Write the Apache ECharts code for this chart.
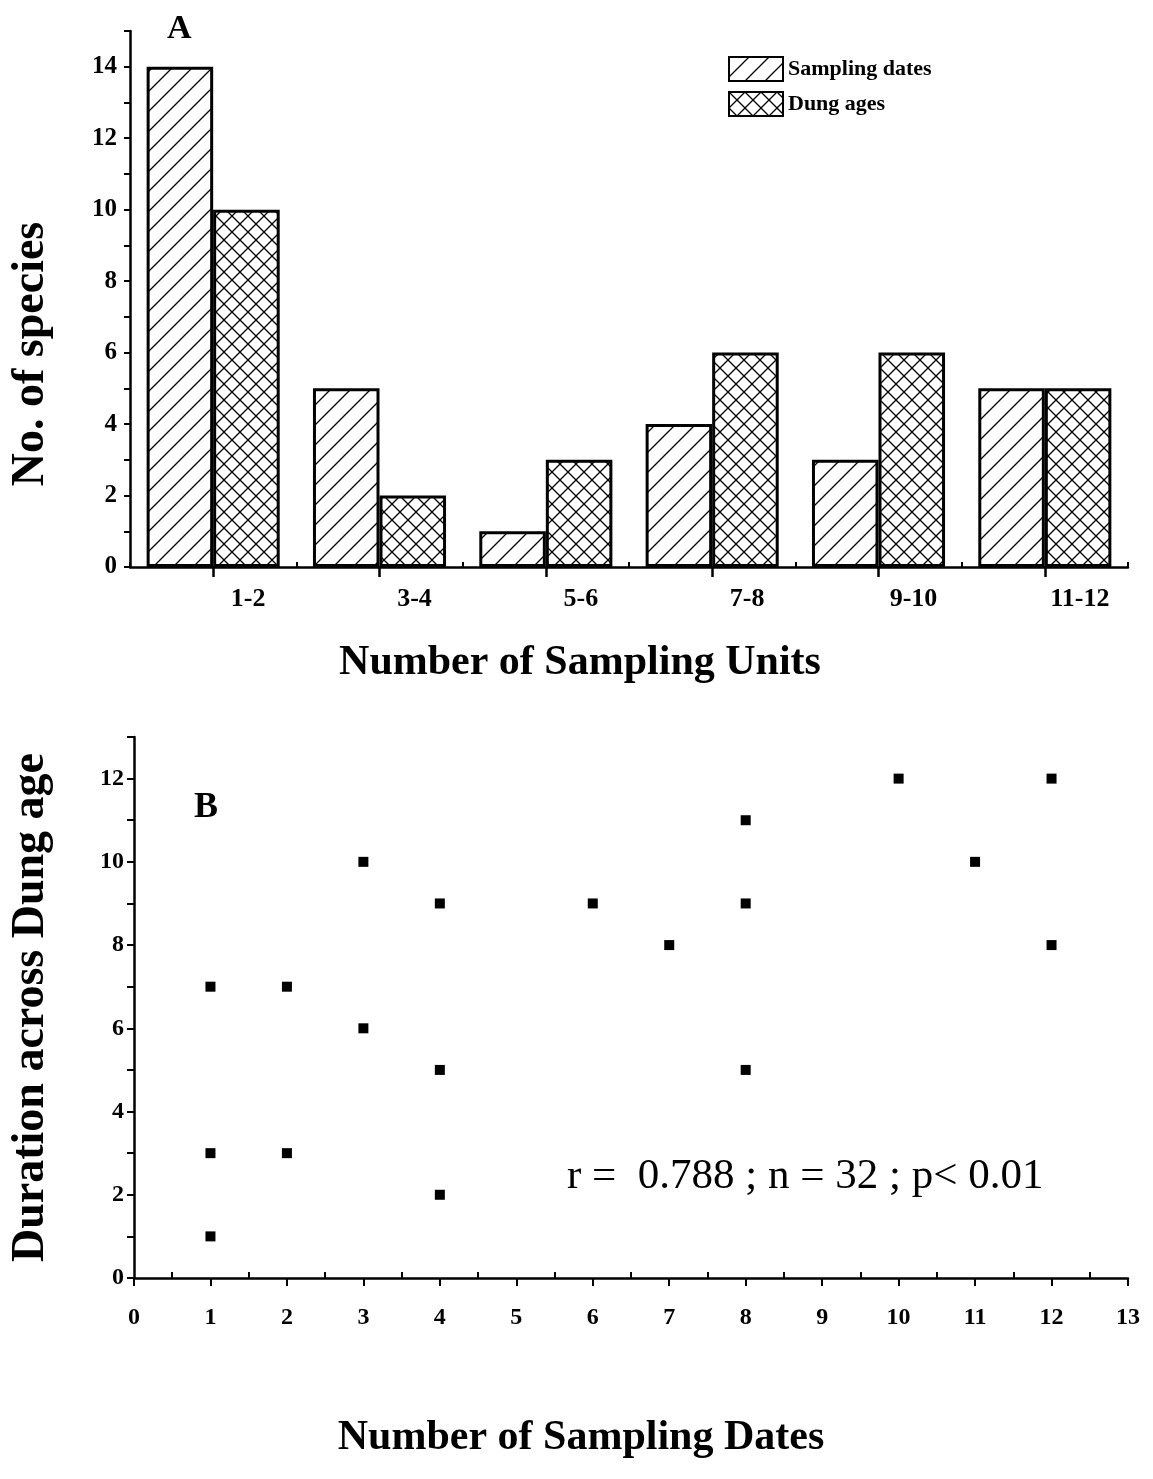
<!DOCTYPE html>
<html>
<head>
<meta charset="utf-8">
<script src="https://cdn.jsdelivr.net/npm/echarts@6/dist/echarts.min.js"></script>
<style>
  html, body { margin: 0; padding: 0; background: #fff; }
  #chart { width: 1153px; height: 1479px; }
</style>
</head>
<body>
<div id="chart"></div>
<script>
// Panel A: number of species found in N sampling units
const unitClasses = ['1-2', '3-4', '5-6', '7-8', '9-10', '11-12'];
const samplingDates = [14, 5, 1, 4, 3, 5];
const dungAges = [10, 2, 3, 6, 6, 5];

// Panel B: sampling dates vs. duration across dung age, one [x, y] per species
const datesVsDuration = [
  [1, 7], [1, 3], [1, 1],
  [2, 7], [2, 3],
  [3, 10], [3, 6],
  [4, 9], [4, 5], [4, 2],
  [6, 9],
  [7, 8],
  [8, 11], [8, 9], [8, 5],
  [10, 12],
  [11, 10],
  [12, 12], [12, 8]
];
const statsText = 'r =  0.788 ; n = 32 ; p< 0.01';

const SERIF = '"Liberation Serif", "Times New Roman", serif';
const INK = '#000';

// Fill patterns: single diagonal hatch and cross hatch
function hatchTile(size, cross) {
  const c = document.createElement('canvas');
  c.width = size; c.height = size;
  const g = c.getContext('2d');
  g.fillStyle = '#fff';
  g.fillRect(0, 0, size, size);
  g.strokeStyle = INK;
  g.lineWidth = 1.3;
  g.beginPath();
  g.moveTo(-2, size + 2); g.lineTo(size + 2, -2);
  g.moveTo(-2, 2); g.lineTo(2, -2);
  g.moveTo(size - 2, size + 2); g.lineTo(size + 2, size - 2);
  if (cross) {
    g.moveTo(-2, -2); g.lineTo(size + 2, size + 2);
    g.moveTo(size - 2, -2); g.lineTo(size + 2, 2);
    g.moveTo(-2, size - 2); g.lineTo(2, size + 2);
  }
  g.stroke();
  return c;
}
const hatchFill = { image: hatchTile(20, false), repeat: 'repeat' };
const crossFill = { image: hatchTile(16, true), repeat: 'repeat' };

const axisLine = { show: true, lineStyle: { color: INK, width: 2.5 } };
const tickLabel = { color: INK, fontFamily: SERIF, fontWeight: 'bold', fontSize: 25 };
const titleStyle = { color: INK, fontFamily: SERIF, fontWeight: 'bold', fontSize: 42 };
const yTitleStyle = Object.assign({}, titleStyle, { fontSize: 46 });
const evenOnly = v => (v % 2 === 0 ? String(v) : '');

const chart = echarts.init(document.getElementById('chart'), null, { renderer: 'canvas' });

chart.setOption({
  animation: false,
  backgroundColor: '#fff',
  grid: [
    { left: 128, right: 25, top: 31, height: 536 },
    { left: 132, right: 25, top: 737, height: 541 }
  ],
  legend: {
    data: ['Sampling dates', 'Dung ages'],
    orient: 'vertical',
    left: 723, top: 51,
    itemWidth: 54, itemHeight: 24, itemGap: 9,
    icon: 'rect',
    itemStyle: { borderColor: INK, borderWidth: 2 },
    textStyle: { color: INK, fontFamily: SERIF, fontWeight: 'bold', fontSize: 22 }
  },
  xAxis: [
    {
      type: 'category', gridIndex: 0, position: 'bottom', data: unitClasses,
      axisLine: axisLine,
      axisTick: { show: true, alignWithLabel: true, length: 10, lineStyle: { color: INK, width: 2.5 } },
      axisLabel: Object.assign({ margin: 19, padding: [0, 0, 0, 70] }, tickLabel, { fontSize: 26 }),
      splitLine: { show: false },
      name: 'Number of Sampling Units', nameLocation: 'middle', nameGap: 75,
      nameTextStyle: Object.assign({ padding: [0, 98, 0, 0] }, titleStyle)
    },
    {
      // short upward ticks on the class boundaries
      type: 'category', gridIndex: 0, position: 'bottom', data: unitClasses,
      axisLine: { show: false },
      axisTick: { show: true, inside: true, length: 5, lineStyle: { color: INK, width: 2 } },
      axisLabel: { show: false },
      splitLine: { show: false }
    },
    {
      type: 'value', gridIndex: 1, position: 'bottom', min: 0, max: 13, interval: 1,
      axisLine: axisLine,
      axisTick: { show: true, length: 8, lineStyle: { color: INK, width: 2 } },
      axisLabel: Object.assign({ margin: 28 }, tickLabel, { fontSize: 24 }),
      splitLine: { show: false },
      name: 'Number of Sampling Dates', nameLocation: 'middle', nameGap: 139,
      nameTextStyle: Object.assign({ padding: [0, 100, 0, 0] }, titleStyle)
    },
    {
      // half-unit ticks pointing up
      type: 'value', gridIndex: 1, position: 'bottom', min: 0, max: 13, interval: 1,
      axisLine: { show: false },
      axisTick: { show: false, inside: true },
      minorTick: { show: true, splitNumber: 2, length: 6, lineStyle: { color: INK, width: 2 } },
      axisLabel: { show: false },
      splitLine: { show: false }
    }
  ],
  yAxis: [
    {
      type: 'value', gridIndex: 0, min: 0, max: 15, interval: 1,
      axisLine: axisLine,
      axisTick: { show: true, length: 6, lineStyle: { color: INK, width: 2 } },
      axisLabel: Object.assign({ margin: 13, padding: [12, 0, 0, 0], formatter: evenOnly }, tickLabel),
      splitLine: { show: false },
      name: 'No. of species', nameLocation: 'middle', nameGap: 76, nameRotate: 90,
      nameTextStyle: Object.assign({ padding: [0, 110, 0, 0] }, yTitleStyle)
    },
    {
      type: 'value', gridIndex: 1, min: 0, max: 13, interval: 1,
      axisLine: axisLine,
      axisTick: { show: true, length: 7, lineStyle: { color: INK, width: 2 } },
      axisLabel: Object.assign({ margin: 10, padding: [0, 0, 20, 0], formatter: evenOnly }, tickLabel, { fontSize: 24 }),
      splitLine: { show: false },
      name: 'Duration across Dung age', nameLocation: 'middle', nameGap: 80, nameRotate: 90,
      nameTextStyle: yTitleStyle
    }
  ],
  series: [
    {
      name: 'Sampling dates', type: 'bar', xAxisIndex: 0, yAxisIndex: 0,
      data: samplingDates,
      barGap: '0%', barCategoryGap: '20%',
      itemStyle: { color: hatchFill, borderColor: INK, borderWidth: 3 }
    },
    {
      name: 'Dung ages', type: 'bar', xAxisIndex: 0, yAxisIndex: 0,
      data: dungAges,
      barGap: '0%', barCategoryGap: '20%',
      itemStyle: { color: crossFill, borderColor: INK, borderWidth: 3 }
    },
    {
      name: 'Species', type: 'scatter', xAxisIndex: 2, yAxisIndex: 1,
      data: datesVsDuration,
      symbol: 'rect', symbolSize: 10,
      itemStyle: { color: INK, opacity: 1 }
    }
  ],
  graphic: [
    {
      type: 'text', left: 167, top: 12,
      style: { text: 'A', fill: INK, font: 'bold 34px ' + SERIF }
    },
    {
      type: 'text', left: 194, top: 790,
      style: { text: 'B', fill: INK, font: 'bold 36px ' + SERIF }
    },
    {
      type: 'text', left: 567, top: 1155,
      style: { text: statsText, fill: INK, font: '43px ' + SERIF }
    }
  ]
});
</script>
</body>
</html>
